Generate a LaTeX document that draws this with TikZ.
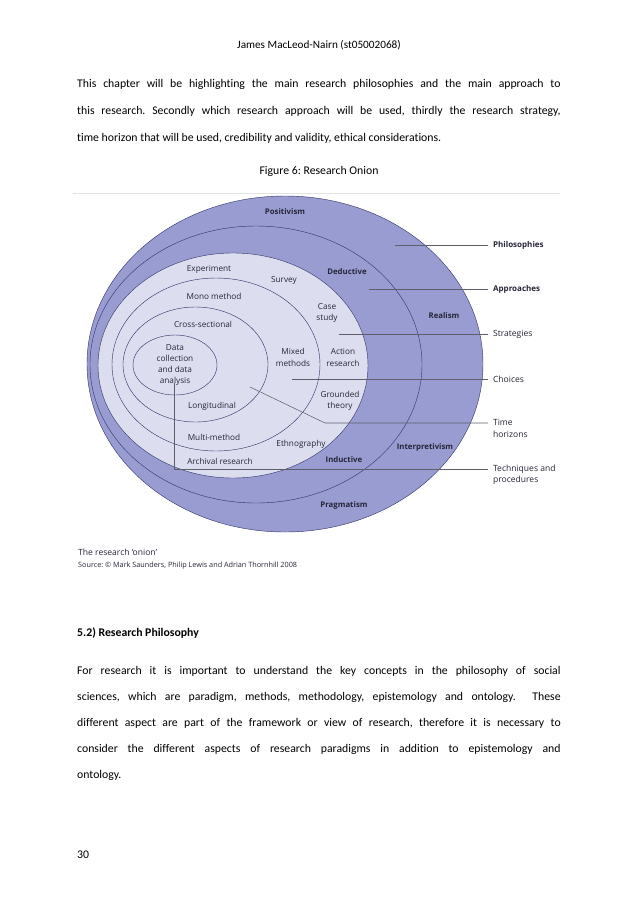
\documentclass[tikz,border=0pt]{standalone}
\usepackage{fontspec}
\setmainfont[Ligatures=NoCommon]{Carlito}
\newfontfamily\onionfont{Open Sans}
\usetikzlibrary{positioning,calc}
\usepackage{xcolor}
\definecolor{ringblue}{HTML}{989CD0}
\definecolor{coreblue}{HTML}{DCDEF0}
\definecolor{edgeblue}{HTML}{34366A}
\definecolor{labelink}{HTML}{262638}
\definecolor{leadgray}{HTML}{5E5E6C}
\definecolor{rulegray}{HTML}{E2E2E2}
\newcommand{\fullline}[1]{\makebox[159mm][s]{#1}}
\frenchspacing

\begin{document}
\begin{tikzpicture}[x=0.3289mm,y=-0.3289mm]
\tikzstyle{body}=[inner sep=0pt, anchor=base west, font=\fontsize{11}{13}\selectfont];
\tikzstyle{lab}=[inner sep=0pt, align=center, text=labelink, font=\onionfont\fontsize{7.7}{10.5}\selectfont];
\tikzstyle{boldlab}=[lab, font=\onionfont\bfseries\fontsize{7.3}{10.5}\selectfont];
\tikzstyle{side}=[lab, anchor=west, align=left, inner xsep=1.6mm, inner ysep=0pt, font=\onionfont\fontsize{8}{10.5}\selectfont];
\tikzstyle{boldside}=[side, font=\onionfont\bfseries\fontsize{7.5}{10.5}\selectfont];
\tikzstyle{ring}=[draw=edgeblue, line width=0.4pt];
\tikzstyle{lead}=[draw=leadgray, line width=0.5pt];
\useasboundingbox[fill=white] (0,0) rectangle (638,903);

\node (header) at (319,48) [body, anchor=base, font=\fontsize{10.5}{12}\selectfont]{James MacLeod-Nairn (st05002068)};
\node (intro1) at (77,87) [body]{\fullline{This chapter will be highlighting the main research philosophies and the main approach to}};
\node (intro2) at (77,114) [body]{\fullline{this research. Secondly which research approach will be used, thirdly the research strategy,}};
\node (intro3) at (77,141) [body]{time horizon that will be used, credibility and validity, ethical considerations.};
\node (figcap) at (319,174) [body, anchor=base]{Figure 6: Research Onion};
\draw[rulegray, line width=0.5pt] (73,193) -- (560,193);

\begin{scope}
  \draw[ring, fill=ringblue] (285,364) ellipse (198 and 168);
  \draw[ring, fill=ringblue] (256,364.5) ellipse (166 and 138.5);
  \draw[ring, fill=coreblue] (233,365.5) ellipse (135 and 112.5);
  \draw[ring] (216,364.5) ellipse (104 and 86.5);
  \draw[ring] (195.5,364.5) ellipse (72.5 and 57.5);
  \draw[ring] (175,365) ellipse (42 and 30);

  \node (positivism) at (285,212) [boldlab]{Positivism};
  \node (deductive) at (347,272) [boldlab]{Deductive};
  \node (realism) at (444,316) [boldlab]{Realism};
  \node (interpretivism) at (425,447) [boldlab]{Interpretivism};
  \node (inductive) at (344,460) [boldlab]{Inductive};
  \node (pragmatism) at (344,505) [boldlab]{Pragmatism};
  \node (experiment) at (209,269) [lab]{Experiment};
  \node (survey) at (284,281) [lab]{Survey};
  \node (mono) at (214,296) [lab]{Mono method};
  \node (casestudy) at (327,313) [lab]{Case\\study};
  \node (crosssec) at (203,324) [lab]{Cross-sectional};
  \node (datacoll) at (175,365) [lab]{Data\\collection\\and data\\analysis};
  \node (mixed) at (293,357.5) [lab]{Mixed\\methods};
  \node (action) at (343,357.5) [lab]{Action\\research};
  \node (grounded) at (340,401) [lab]{Grounded\\theory};
  \node (longit) at (212,406) [lab]{Longitudinal};
  \node (multi) at (214,437) [lab]{Multi-method};
  \node (ethno) at (301,444) [lab]{Ethnography};
  \node (archival) at (220,461) [lab]{Archival research};

  \node (philolab) at (488,245) [boldside]{Philosophies};
  \node (approlab) at (488,289) [boldside]{Approaches};
  \node (stratlab) at (488,334) [side]{Strategies};
  \node (choicelab) at (488,379) [side]{Choices};
  \node (timelab) at (488,428.5) [side]{Time\\horizons};
  \node (techlab) at (488,474.5) [side]{Techniques and\\procedures};

  \coordinate (philoin) at (395,245);
  \coordinate (approin) at (369,289);
  \coordinate (stratin) at (339,334);
  \coordinate (choicein) at (292,379);
  \coordinate (timein) at (250,387);
  \coordinate (timebend) at (325,423);
  \coordinate (techin) at (174,383);
  \coordinate (techbend) at (174,469);

  \draw[lead] (philoin) -- (philolab);
  \draw[lead] (approin) -- (approlab);
  \draw[lead] (stratin) -- (stratlab);
  \draw[lead] (choicein) -- (choicelab);
  \draw[lead] (timein) -- (timebend) -- (timebend -| timelab.west);
  \draw[lead] (techin) -- (techbend) -- (techbend -| techlab.west);

  \node (onioncap) at (78,555) [inner sep=0pt, anchor=base west, text=labelink, font=\onionfont\fontsize{8}{9}\selectfont]{The research ‘onion’};
  \node (source) at (78,567) [inner sep=0pt, anchor=base west, text=labelink, font=\onionfont\fontsize{6.8}{8}\selectfont]{Source: © Mark Saunders, Philip Lewis and Adrian Thornhill 2008};
\end{scope}

\node (heading) at (77,636) [body, font=\bfseries\fontsize{11}{13}\selectfont]{5.2) Research Philosophy};
\node (para1) at (77,674) [body]{\fullline{For research it is important to understand the key concepts in the philosophy of social}};
\node (para2) at (77,700) [body]{\fullline{sciences, which are paradigm, methods, methodology, epistemology and ontology.\ \ These}};
\node (para3) at (77,726) [body]{\fullline{different aspect are part of the framework or view of research, therefore it is necessary to}};
\node (para4) at (77,752) [body]{\fullline{consider the different aspects of research paradigms in addition to epistemology and}};
\node (para5) at (77,778) [body]{ontology.};
\node (pagenum) at (77,858) [body]{30};
\end{tikzpicture}
\end{document}
